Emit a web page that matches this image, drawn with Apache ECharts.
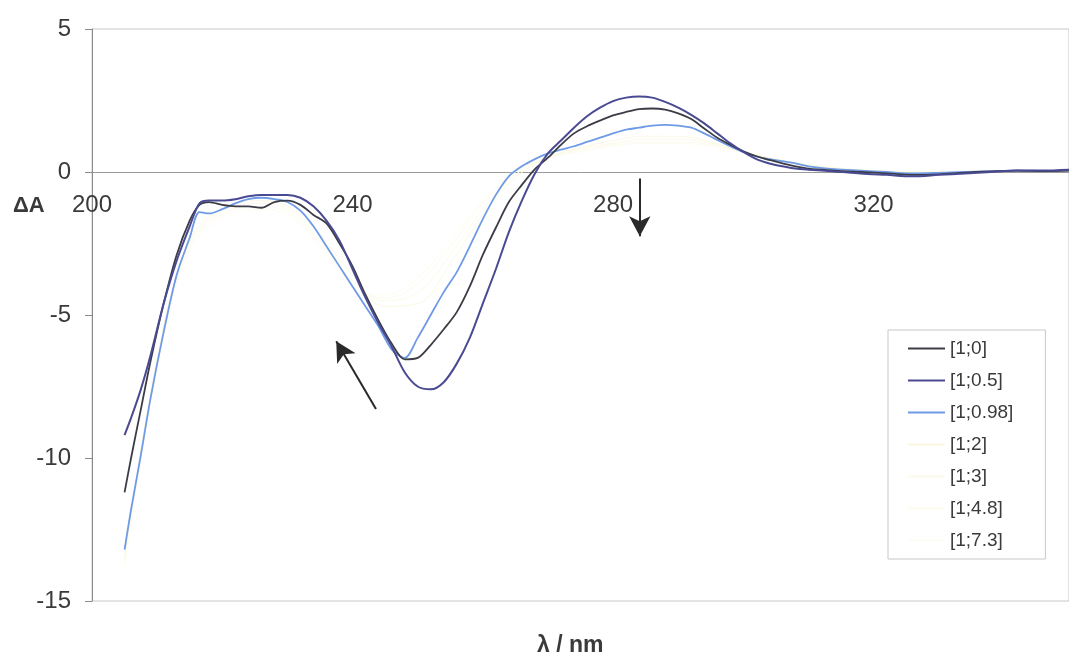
<!DOCTYPE html>
<html>
<head>
<meta charset="utf-8">
<script src="https://cdn.jsdelivr.net/npm/echarts@6/dist/echarts.min.js"></script>
<style>
html,body{margin:0;padding:0;background:#fff;}
#c{width:1069px;height:659px;}
</style>
</head>
<body>
<div id="c"></div>
<script>
// wavelengths (nm) for the three main spectra
const wavelengths = [205,206,207.5,209,211,213,215,216.5,218,220,222,224,226,228,230,232,234,236,238,240,242,244,246,248,250,252,254,256,258,260,262,264,266,268,270,272,274,276,278,280,282,284,286,288,290,292,294,296,298,300,302,304,306,308,310,314,318,322,326,330,334,338,342,346,350];
const s_1_0 = [-11.2,-10.0,-8.3,-6.6,-4.6,-2.9,-1.7,-1.15,-1.05,-1.15,-1.2,-1.2,-1.25,-1.05,-1.0,-1.15,-1.5,-1.8,-2.5,-3.3,-4.3,-5.2,-6.0,-6.55,-6.5,-6.05,-5.5,-4.9,-4.0,-2.9,-1.95,-1.05,-0.45,0.1,0.5,0.95,1.35,1.6,1.8,1.98,2.1,2.2,2.22,2.18,2.05,1.85,1.52,1.2,0.95,0.72,0.55,0.42,0.3,0.2,0.12,0.05,0.0,-0.05,-0.1,-0.08,-0.02,0.02,0.05,0.03,0.05];
const s_1_05 = [-9.2,-8.6,-7.6,-6.4,-4.6,-3.1,-1.9,-1.1,-1.0,-1.0,-0.95,-0.85,-0.8,-0.8,-0.8,-0.9,-1.2,-1.7,-2.4,-3.4,-4.4,-5.3,-6.1,-7.0,-7.5,-7.6,-7.35,-6.7,-5.8,-4.6,-3.4,-2.1,-1.0,-0.05,0.65,1.1,1.55,1.95,2.25,2.48,2.6,2.64,2.6,2.45,2.25,2.0,1.7,1.35,1.0,0.7,0.45,0.3,0.2,0.12,0.08,0.02,-0.05,-0.1,-0.15,-0.1,-0.05,0.0,0.05,0.05,0.08];
const s_1_098 = [-13.2,-11.8,-9.9,-7.9,-5.6,-3.6,-2.3,-1.4,-1.45,-1.3,-1.1,-0.95,-0.9,-0.95,-1.05,-1.35,-1.9,-2.6,-3.3,-4.0,-4.7,-5.4,-6.2,-6.5,-5.8,-5.0,-4.2,-3.5,-2.6,-1.65,-0.8,-0.15,0.2,0.45,0.65,0.78,0.9,1.05,1.2,1.35,1.48,1.55,1.62,1.65,1.62,1.55,1.35,1.12,0.9,0.7,0.55,0.45,0.38,0.3,0.2,0.1,0.05,0.0,-0.05,-0.03,0.0,0.03,0.05,0.04,0.06];
// faint (nearly invisible) spectra
const paleWavelengths = [205,210,215,220,225,230,235,240,245,250,255,260,265,270,275,280,285,290,295,300,310,320,330,340,350];
const s_1_2  = [-13.5,-6.5,-2.4,-1.3,-1.0,-1.2,-2.2,-3.6,-4.7,-4.6,-3.2,-1.5,-0.2,0.5,0.85,1.1,1.25,1.25,1.05,0.7,0.25,0.05,0,0.02,0.05];
const s_1_3  = [-13.6,-6.6,-2.5,-1.4,-1.1,-1.3,-2.4,-3.8,-4.5,-4.2,-2.9,-1.3,-0.1,0.5,0.8,1.0,1.15,1.15,1.0,0.7,0.25,0.05,0,0.02,0.05];
const s_1_48 = [-13.7,-6.7,-2.6,-1.5,-1.2,-1.4,-2.5,-3.9,-4.4,-3.9,-2.6,-1.1,0.0,0.5,0.75,0.95,1.05,1.05,0.95,0.7,0.25,0.05,0,0.02,0.05];
const s_1_73 = [-13.8,-6.8,-2.7,-1.6,-1.3,-1.5,-2.6,-4.0,-4.3,-3.7,-2.4,-1.0,0.05,0.5,0.7,0.9,1.0,1.0,0.9,0.68,0.25,0.05,0,0.02,0.05];
const seriesNames = ['[1;0]','[1;0.5]','[1;0.98]','[1;2]','[1;3]','[1;4.8]','[1;7.3]'];
const xTicks = [200,240,280,320];
// arrow annotations in data coordinates [from, to]
const arrowUp = [[243.6,-8.29],[237.5,-5.92]];
const arrowDown = [[284.1,-0.23],[284.1,-2.25]];

const pair = (xs, ys) => xs.map((x,i)=>[x, ys[i]]);

const chart = echarts.init(document.getElementById('c'));
const mainStyle = (name, data, color, width, extra) => Object.assign({
  name, type:'line', data, symbol:'none', showSymbol:false, smooth:0.3,
  lineStyle:{color, width}, itemStyle:{color}, z:3, silent:true
}, extra||{});
const paleStyle = (name, data, color) => ({
  name, type:'line', data, symbol:'none', showSymbol:false, smooth:0.4,
  lineStyle:{color, width:1}, itemStyle:{color}, z:1, silent:true
});

chart.setOption({
  animation:false,
  backgroundColor:'#ffffff',
  textStyle:{fontFamily:'"Liberation Sans", Arial, sans-serif'},
  grid:{left:92, top:29, right:-4, bottom:58, show:true, borderColor:'#c8c8c8', borderWidth:1, backgroundColor:'transparent'},
  xAxis:{
    type:'value', min:200, max:350, interval:40,
    position:'bottom', offset:-429,
    axisLine:{onZero:false, lineStyle:{color:'#9a9a9a', width:1}},
    axisTick:{show:false},
    splitLine:{show:false},
    axisLabel:{customValues:xTicks, color:'#3a3a3a', fontSize:24, margin:21}
  },
  yAxis:{
    type:'value', min:-15, max:5, interval:5,
    axisLine:{show:true, lineStyle:{color:'#8a8a8a', width:1}},
    axisTick:{show:true, length:7, lineStyle:{color:'#8a8a8a'}},
    splitLine:{show:false},
    axisLabel:{color:'#3a3a3a', fontSize:24, margin:21}
  },
  legend:{
    data:seriesNames, orient:'vertical', left:888, top:330,
    padding:[9,32,9,20], itemGap:13, itemWidth:37, itemHeight:2, icon:'rect',
    borderColor:'#c8c8c8', borderWidth:1, backgroundColor:'#ffffff',
    textStyle:{color:'#3a3a3a', fontSize:19, lineHeight:19},
    selectedMode:false
  },
  graphic:[
    {type:'text', left:13, top:195, style:{text:'ΔA', fill:'#3a3a3a', font:'bold 22px "Liberation Sans", Arial, sans-serif'}},
    {type:'text', left:537, top:634, style:{text:'λ / nm', fill:'#3a3a3a', font:'bold 23px "Liberation Sans", Arial, sans-serif'}}
  ],
  series:[
    paleStyle('[1;7.3]', pair(paleWavelengths, s_1_73), '#fdfcf2'),
    paleStyle('[1;4.8]', pair(paleWavelengths, s_1_48), '#fcfbee'),
    paleStyle('[1;3]', pair(paleWavelengths, s_1_3), '#fcfae9'),
    paleStyle('[1;2]', pair(paleWavelengths, s_1_2), '#fbf8e2'),
    mainStyle('[1;0.98]', pair(wavelengths, s_1_098), '#6f9be6', 1.8),
    mainStyle('[1;0]', pair(wavelengths, s_1_0), '#3c3c46', 1.8),
    mainStyle('[1;0.5]', pair(wavelengths, s_1_05), '#4a4a92', 2, {
      markLine:{
        silent:true, animation:false,
        symbol:['none','arrow'], symbolSize:[16,20],
        label:{show:false},
        lineStyle:{color:'#2a2a2a', width:2, type:'solid'},
        emphasis:{disabled:true},
        data:[
          [{coord:arrowUp[0]},{coord:arrowUp[1]}],
          [{coord:arrowDown[0]},{coord:arrowDown[1]}]
        ]
      }
    })
  ]
});
</script>
</body>
</html>
